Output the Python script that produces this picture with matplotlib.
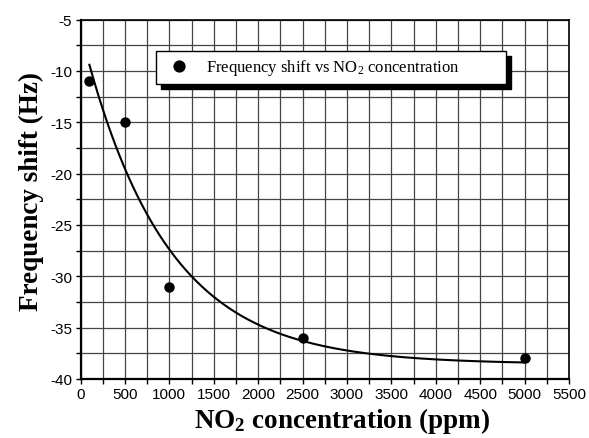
import numpy as np
import matplotlib
matplotlib.use("Agg")
import matplotlib.pyplot as plt
from matplotlib.patches import Rectangle
from matplotlib.ticker import MultipleLocator

plt.rcParams["axes.unicode_minus"] = False

conc = np.array([100, 500, 1000, 2500, 5000])
shift = np.array([-11, -15, -31, -36, -38])

legend_label = r"Frequency shift vs $\mathregular{NO_2}$ concentration"
x_label = r"$\mathregular{NO_2}$ concentration (ppm)"
y_label = "Frequency shift (Hz)"


# single exponential decay fit y = y0 + A*exp(-x/t), least squares
def exp_fit(x, y):
    best = None
    for t in np.linspace(100, 5000, 4901):
        M = np.column_stack([np.ones_like(x, dtype=float), np.exp(-x / t)])
        coef, res, _, _ = np.linalg.lstsq(M, y, rcond=None)
        err = np.sum((M @ coef - y) ** 2)
        if best is None or err < best[0]:
            best = (err, coef[0], coef[1], t)
    return best[1:]


y0, A, t = exp_fit(conc.astype(float), shift.astype(float))
xf = np.linspace(conc.min(), conc.max(), 300)
yf = y0 + A * np.exp(-xf / t)

fig = plt.figure(figsize=(5.89, 4.39), dpi=100)
ax = fig.add_axes([0.1367, 0.1344, 0.8293, 0.8189])

ax.plot(xf, yf, color="black", lw=1.5, zorder=3)
ax.plot(conc, shift, "o", color="black", ms=6.5, zorder=4, label=legend_label)

ax.set_xlim(0, 5500)
ax.set_ylim(-40, -5)
ax.xaxis.set_major_locator(MultipleLocator(500))
ax.xaxis.set_minor_locator(MultipleLocator(250))
ax.yaxis.set_major_locator(MultipleLocator(5))
ax.yaxis.set_minor_locator(MultipleLocator(2.5))
ax.grid(True, which="both", color="#454545", lw=0.9)
ax.set_axisbelow(True)

ax.tick_params(which="both", direction="out", length=3.5, width=1, color="black",
               top=False, right=False, pad=2.5)
for lab in ax.get_xticklabels() + ax.get_yticklabels():
    lab.set_fontfamily("Liberation Sans")
    lab.set_fontsize(11)
for s in ax.spines.values():
    s.set_linewidth(1.2)
    s.set_color("black")
ax.spines["left"].set_linewidth(1.6)
ax.spines["bottom"].set_linewidth(1.6)

ax.set_xlabel(x_label, family="Liberation Serif", weight="bold", fontsize=19.5)
ax.set_ylabel(y_label, family="Liberation Serif", weight="bold", fontsize=19.5)
ax.xaxis.set_label_coords(0.535, -0.073)
ax.yaxis.set_label_coords(-0.074, 0.525)

leg = ax.legend(loc="upper left", bbox_to_anchor=(0.154, 0.828, 0.718, 0.085),
                mode="expand", borderaxespad=0, fancybox=False, framealpha=1,
                edgecolor="black", handletextpad=0.6, borderpad=0.4,
                markerscale=1.2, prop={"family": "Liberation Serif", "size": 12})
leg.get_frame().set_linewidth(1)
leg.set_zorder(6)

# solid black drop shadow offset to the lower right
fig.canvas.draw()
bb = leg.get_window_extent().transformed(fig.transFigure.inverted())
dx, dy = 5 / 589, 5 / 439
ax.add_patch(Rectangle((bb.x0 + dx, bb.y0 - dy), bb.width, bb.height,
                       transform=fig.transFigure, color="black", zorder=5,
                       clip_on=False))

fig.savefig("out.png", dpi=100)
